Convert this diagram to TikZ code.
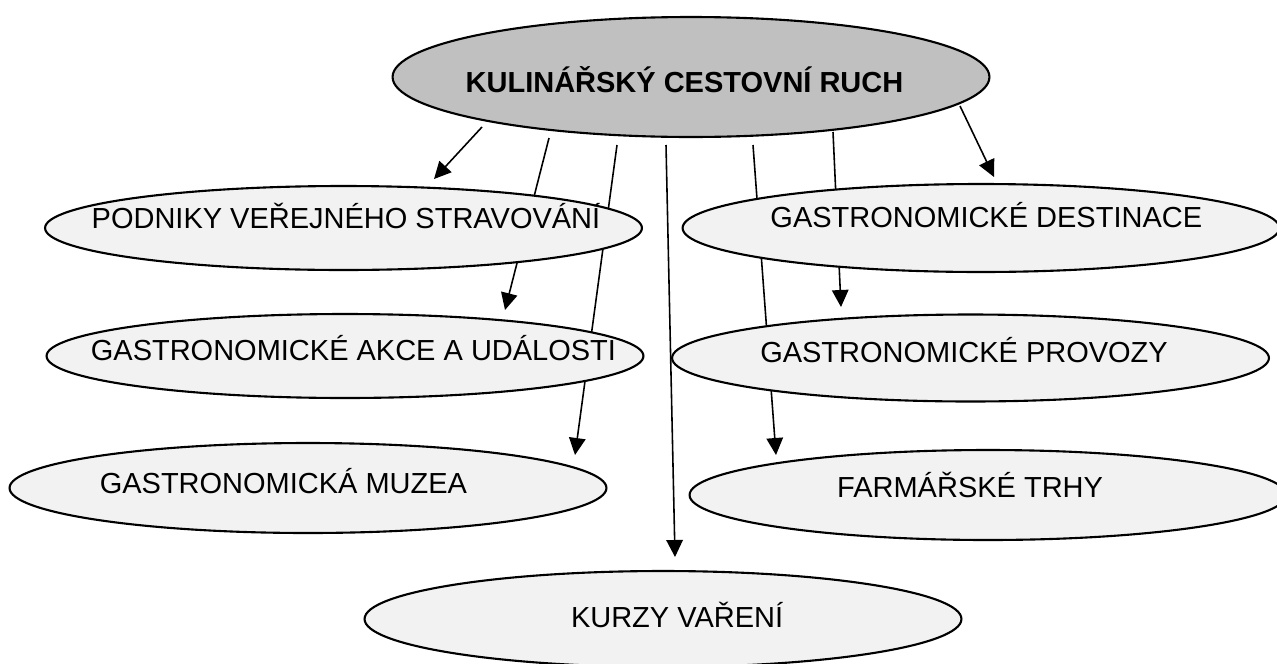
\documentclass[tikz,border=0pt]{standalone}
\usepackage{fontspec}
\setmainfont{Liberation Sans}
\usetikzlibrary{arrows.meta,shapes,calc,backgrounds}
\definecolor{hubgray}{HTML}{C0C0C0}
\definecolor{ovalgray}{HTML}{F2F2F2}
\newcommand{\ctext}[2][0pt]{\makebox[0pt]{\kern#1#2\kern-#1}}
\tikzset{%
    >={Triangle[width=3.3mm,length=3.4mm]},
    % Specifications for style of nodes:
    base/.style = {
        ellipse, draw=black, line width=1.2pt,
        minimum width=11.94cm, minimum height=1.7cm,
        inner sep=0pt, fill=ovalgray,
        font=\fontsize{16.5}{20}\selectfont,
        text height=11.8pt, text depth=0pt
    },
    hub/.style = {base, fill=hubgray, font=\fontsize{16.5}{20}\selectfont\bfseries},
    lift/.style = {text depth=#1},
    link/.style = {->, line width=0.9pt}
}

\begin{document}
\begin{tikzpicture}[x=0.02cm, y=-0.02cm]
\useasboundingbox (0,0) rectangle (1277,663);
% Specification of nodes (position, etc.)
\node (hub)       [hub, minimum height=2.4cm, text height=17.9pt] at (691,77) {\ctext[-3.7pt]{KULINÁŘSKÝ CESTOVNÍ RUCH}};
\node (podniky)   [base, minimum height=1.68cm, lift=11.4pt] at (343.5,228) {\ctext[1.4pt]{PODNIKY VEŘEJNÉHO STRAVOVÁNÍ}};
\node (destinace) [base, minimum height=1.76cm, lift=12pt] at (981,228) {\ctext[3pt]{GASTRONOMICKÉ DESTINACE}};
\node (akce)      [base, minimum height=1.68cm, lift=6.8pt] at (345,356) {\ctext[4.8pt]{GASTRONOMICKÉ AKCE A UDÁLOSTI}};
\node (provozy)   [base, minimum height=1.74cm, lift=6.8pt] at (970.5,358) {\ctext[-3.7pt]{GASTRONOMICKÉ PROVOZY}};
\node (muzea)     [base, minimum height=1.8cm, lift=5.7pt] at (308,488) {\ctext[-14pt]{GASTRONOMICKÁ MUZEA}};
\node (trhy)      [base, minimum height=1.8cm, lift=9.1pt] at (988,495) {\ctext[-10.2pt]{FARMÁŘSKÉ TRHY}};
\node (kurzy)     [base, minimum height=1.92cm, lift=1.7pt] at (663,619) {\ctext[8pt]{KURZY VAŘENÍ}};
% Specification of paths
\begin{pgfonlayer}{background}
\draw[link] ($(hub.center)+(-209,50)$) -- ($(podniky.center)+(90.5,-49)$);
\draw[link] ($(hub.center)+(-142,61)$) -- ($(akce.center)+(160,-46)$);
\draw[link] ($(hub.center)+(-74,68)$)  -- ($(muzea.center)+(267,-33)$);
\draw[link] ($(hub.center)+(-25,68)$)  -- ($(kurzy.center)+(12,-62)$);
\draw[link] ($(hub.center)+(62,68)$)   -- ($(trhy.center)+(-212,-40)$);
\draw[link] ($(hub.center)+(142,55)$)  -- ($(provozy.center)+(-129.5,-51)$);
\draw[link] ($(hub.center)+(269,29)$)  -- ($(destinace.center)+(13,-51)$);
\end{pgfonlayer}
\end{tikzpicture}
\end{document}
